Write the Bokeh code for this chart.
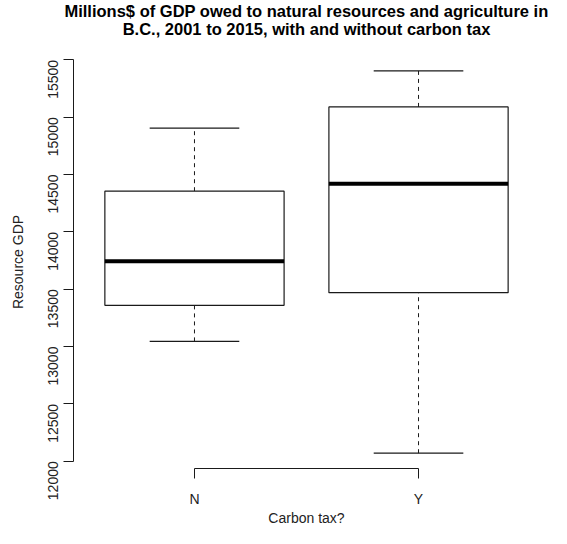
import math
import numpy as np
from bokeh.plotting import figure
from bokeh.models import ColumnDataSource, Range1d, FixedTicker, Title
from bokeh.embed import file_html
from bokeh.resources import INLINE

# ---- data ----
categories = ["N", "Y"]
lower_whisker = [13045, 12070]
q1 = [13360, 13470]
median = [13745, 14420]
q3 = [14355, 15090]
upper_whisker = [14905, 15405]
y_ticks = [12000, 12500, 13000, 13500, 14000, 14500, 15000, 15500]

title_line1 = "Millions$ of GDP owed to natural resources and agriculture in"
title_line2 = "B.C., 2001 to 2015, with and without carbon tax"

# ---- layout constants ----
BOX_W = 0.8
CAP_W = 0.4
FONT = "Liberation Sans"
LINE = "#1a1a1a"

xpos = np.arange(1, len(categories) + 1, dtype=float)
src = ColumnDataSource(dict(
    x=xpos,
    left=xpos - BOX_W / 2, right=xpos + BOX_W / 2,
    cl=xpos - CAP_W / 2, cr=xpos + CAP_W / 2,
    lw=lower_whisker, q1=q1, med=median, q3=q3, uw=upper_whisker,
))

lo, hi = min(lower_whisker), max(upper_whisker)
pad = 0.04 * (hi - lo)
n = len(categories)
xpad = 0.04 * n

p = figure(width=551, height=528, output_backend="svg", toolbar_location=None,
           x_range=Range1d(0.5 - xpad / 2, n + 0.5 + xpad / 2),
           y_range=Range1d(lo - pad, hi + pad),
           min_border_left=73, min_border_right=12,
           min_border_top=55, min_border_bottom=55)
p.title = None
p.outline_line_color = None
p.xgrid.visible = False
p.ygrid.visible = False
p.background_fill_color = "white"

# whiskers (dashed)
p.segment(x0="x", x1="x", y0="q3", y1="uw", source=src,
          line_color=LINE, line_width=1, line_dash="4 4")
p.segment(x0="x", x1="x", y0="lw", y1="q1", source=src,
          line_color=LINE, line_width=1, line_dash="4 4")
# caps
p.segment(x0="cl", x1="cr", y0="uw", y1="uw", source=src,
          line_color=LINE, line_width=1.2)
p.segment(x0="cl", x1="cr", y0="lw", y1="lw", source=src,
          line_color=LINE, line_width=1.2)
# boxes
p.quad(left="left", right="right", bottom="q1", top="q3", source=src,
       fill_color="white", line_color=LINE, line_width=1.2)
# medians
p.segment(x0="left", x1="right", y0="med", y1="med", source=src,
          line_color="black", line_width=4)

# ---- axes ----
xa = p.xaxis[0]
xa.ticker = FixedTicker(ticks=list(xpos))
xa.major_label_overrides = {float(v): c for v, c in zip(xpos, categories)}
xa.major_label_overrides.update({int(v): c for v, c in zip(xpos, categories)})
xa.bounds = (float(xpos[0]), float(xpos[-1]))
xa.minor_tick_line_color = None
xa.major_tick_out = 10
xa.major_tick_in = 0
xa.major_label_standoff = 12
xa.axis_label = "Carbon tax?"
xa.axis_label_standoff = 0

ya = p.yaxis[0]
ya.ticker = FixedTicker(ticks=y_ticks)
ya.bounds = (y_ticks[0], y_ticks[-1])
ya.minor_tick_line_color = None
ya.major_tick_out = 10
ya.major_tick_in = 0
ya.major_label_standoff = 10
ya.major_label_orientation = math.pi / 2
ya.axis_label = "Resource GDP"
ya.axis_label_standoff = 15

for ax in (xa, ya):
    ax.axis_line_color = LINE
    ax.major_tick_line_color = LINE
    ax.major_label_text_font = FONT
    ax.major_label_text_font_size = "14px"
    ax.major_label_text_color = "#222222"
    ax.axis_label_text_font = FONT
    ax.axis_label_text_font_size = "14px"
    ax.axis_label_text_font_style = "normal"
    ax.axis_label_text_color = "#222222"

# two-line bold title (second line added first: it sits next to the frame;
# the first line uses a negative standoff to close the gap between lines)
p.add_layout(Title(text=title_line2, align="center", vertical_align="bottom",
                   text_font=FONT, text_font_size="16.5px",
                   text_font_style="bold", text_color="black",
                   standoff=35.4), "above")
p.add_layout(Title(text=title_line1, align="center", vertical_align="bottom",
                   text_font=FONT, text_font_size="16.5px",
                   text_font_style="bold", text_color="black",
                   standoff=-38.4), "above")

html = file_html(p, INLINE)
open("out.html", "w").write(html)
